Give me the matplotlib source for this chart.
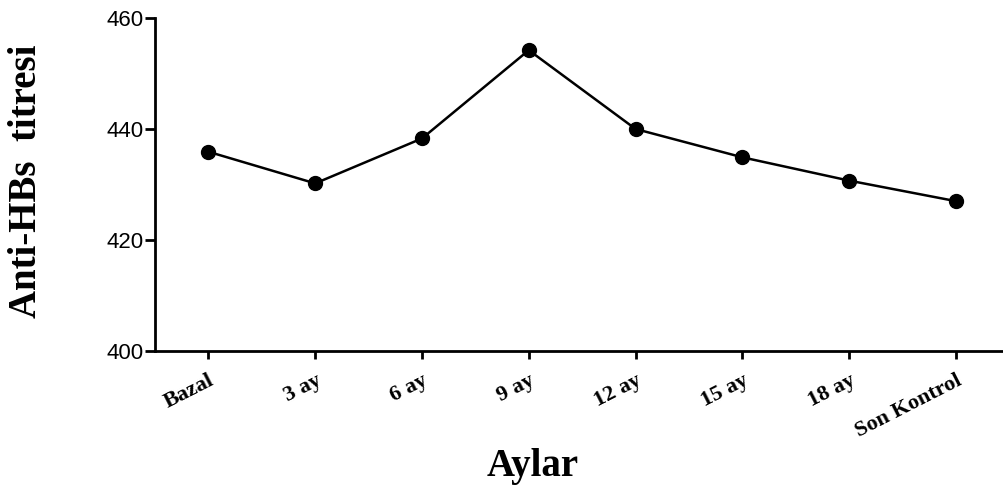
import matplotlib.pyplot as plt

# months and mean anti-HBs titre
months = ["Bazal", "3 ay", "6 ay", "9 ay", "12 ay", "15 ay", "18 ay", "Son Kontrol"]
titre = [435.9, 430.2, 438.3, 454.2, 440.0, 434.9, 430.7, 427.0]
y_ticks = [400, 420, 440, 460]

fig = plt.figure(figsize=(10.04, 4.92), dpi=100)
ax = fig.add_axes([0.1544, 0.2866, 0.8456, 0.6768])

x = list(range(len(months)))
ax.plot(x, titre, color="black", linewidth=1.8, marker="o", markersize=10)

ax.set_xlim(-0.5, 7.45)
ax.set_ylim(400, 460)
ax.set_yticks(y_ticks)
ax.set_yticklabels([str(t) for t in y_ticks], fontfamily="Liberation Sans", fontsize=16)
ax.set_xticks(x)
ax.set_xticklabels(months, rotation=27, ha="right", rotation_mode="anchor",
                   fontfamily="Liberation Serif", fontweight="bold", fontsize=16)

for side in ["top", "right"]:
    ax.spines[side].set_visible(False)
for side in ["left", "bottom"]:
    ax.spines[side].set_linewidth(2)
ax.tick_params(axis="y", length=7, width=2, pad=1)
ax.tick_params(axis="x", length=6, width=2, pad=8)

ax.set_ylabel("Anti-HBs  titresi", fontfamily="Liberation Serif", fontweight="bold",
              fontsize=28)
ax.yaxis.set_label_coords(-0.13, 0.51)
ax.set_xlabel("Aylar", fontfamily="Liberation Serif", fontweight="bold", fontsize=28)
ax.xaxis.set_label_coords(0.445, -0.29)

fig.savefig("out.png", dpi=100)
